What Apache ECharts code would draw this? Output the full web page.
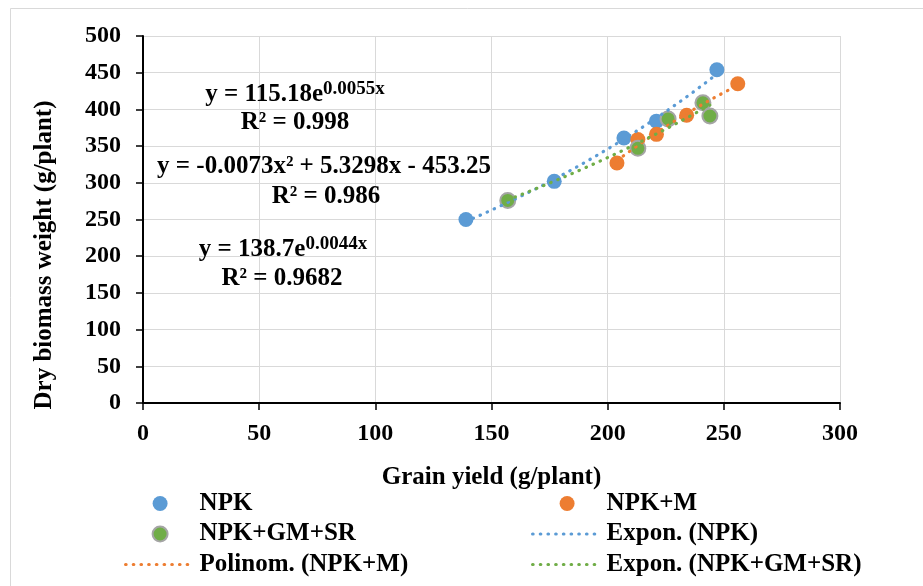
<!DOCTYPE html>
<html>
<head>
<meta charset="utf-8">
<script src="https://cdn.jsdelivr.net/npm/echarts@6/dist/echarts.min.js"></script>
<style>
html, body { margin: 0; padding: 0; background: #fff; }
#chart { width: 923px; height: 586px; }
</style>
</head>
<body>
<div id="chart"></div>
<script>
// 数据
var npkX = [139, 177, 207, 221, 247];
var npkY = [250, 302, 361, 384, 454];
var npkmX = [204, 213, 221, 234, 256];
var npkmY = [327, 359, 366, 392, 435];
var gmX = [157, 213, 226, 241, 244];
var gmY = [276, 347, 387, 409, 391];

// trendline coefficients as printed on the chart
var npkExpFit = [115.18, 0.0055];
var npkmPolyFit = [-0.0073, 5.3298, -453.25];
var gmExpFit = [138.7, 0.0044];

var xTicks = [0, 50, 100, 150, 200, 250, 300];
var yTicks = [0, 50, 100, 150, 200, 250, 300, 350, 400, 450, 500];

var FONT = '"Liberation Serif", "Times New Roman", serif';
var BLUE = '#5b9bd5', ORANGE = '#ed7d31', GREEN = '#70ad47', GREY = '#a5a5a5';

function pairs(xs, ys) {
    var out = [];
    for (var i = 0; i < xs.length; i++) out.push([xs[i], ys[i]]);
    return out;
}

// trendline drawn over the range of its own series
function curve(xs, fn) {
    var lo = Math.min.apply(null, xs), hi = Math.max.apply(null, xs);
    var out = [];
    for (var x = lo; x < hi; x += 1) out.push([x, fn(x)]);
    out.push([hi, fn(hi)]);
    return out;
}

function expo(c) { return function (x) { return c[0] * Math.exp(c[1] * x); }; }
function poly2(c) { return function (x) { return c[0] * x * x + c[1] * x + c[2]; }; }

var dotted = function (color) {
    return { color: color, width: 3.2, type: [0.5, 7.2], cap: 'round', opacity: 1 };
};

var txt = { fontFamily: FONT, fontWeight: 'bold', fontSize: 25, color: '#000' };

function eqText(x, y, text) {
    return {
        type: 'text', x: x, y: y, z: 20,
        style: {
            text: text,
            align: 'center', verticalAlign: 'middle',
            textAlign: 'center', textVerticalAlign: 'middle',
            font: 'bold 25px ' + FONT, fill: '#000',
            rich: {
                m: { fontFamily: FONT, fontWeight: 'bold', fontSize: 25, lineHeight: 30 },
                s: { fontFamily: FONT, fontWeight: 'bold', fontSize: 19, lineHeight: 19, verticalAlign: 'top' }
            }
        }
    };
}

// legend entry for a trendline: the dotted line only, no symbol
function lineEntry(name, color) {
    return { name: name, itemStyle: { opacity: 0 }, lineStyle: dotted(color) };
}

var axisLineStyle = { color: '#000', width: 2 };
var legendText = { fontFamily: FONT, fontWeight: 'bold', fontSize: 25, color: '#000', lineHeight: 25 };

var option = {
    backgroundColor: '#fff',
    animation: false,
    grid: { left: 143, right: 83, top: 36, bottom: 183 },
    xAxis: {
        type: 'value', min: 0, max: 300, interval: 50,
        name: 'Grain yield (g/plant)', nameLocation: 'middle', nameGap: 62,
        nameTextStyle: txt,
        axisLine: { onZero: false, lineStyle: axisLineStyle },
        axisTick: { show: true, length: 7, lineStyle: { color: '#000', width: 1.5 } },
        axisLabel: {
            margin: 19, fontFamily: FONT, fontWeight: 'bold', fontSize: 24, color: '#000',
            formatter: function (v) { return xTicks.indexOf(v) >= 0 ? String(v) : ''; }
        },
        splitLine: { show: true, lineStyle: { color: '#d9d9d9', width: 1 } }
    },
    yAxis: {
        type: 'value', min: 0, max: 500, interval: 50,
        axisLine: { show: true, onZero: false, lineStyle: axisLineStyle },
        axisTick: { show: true, length: 7, lineStyle: { color: '#000', width: 1.5 } },
        axisLabel: {
            margin: 22, fontFamily: FONT, fontWeight: 'bold', fontSize: 24, color: '#000',
            formatter: function (v) { return yTicks.indexOf(v) >= 0 ? String(v) : ''; }
        },
        splitLine: { show: true, lineStyle: { color: '#d9d9d9', width: 1 } }
    },
    legend: [
        {
            left: 124, top: 491, orient: 'vertical', padding: 0, itemGap: 5.5,
            itemWidth: 69, itemHeight: 15, selectedMode: false,
            textStyle: legendText,
            data: ['NPK', 'NPK+GM+SR', lineEntry('Polinom. (NPK+M)', ORANGE)]
        },
        {
            left: 531, top: 491, orient: 'vertical', padding: 0, itemGap: 5.5,
            itemWidth: 69, itemHeight: 15, selectedMode: false,
            textStyle: legendText,
            data: ['NPK+M', lineEntry('Expon. (NPK)', BLUE), lineEntry('Expon. (NPK+GM+SR)', GREEN)]
        }
    ],
    series: [
        {
            name: 'NPK', type: 'scatter', symbol: 'circle', symbolSize: 15, z: 2,
            itemStyle: { color: BLUE, opacity: 1 },
            data: pairs(npkX, npkY)
        },
        {
            name: 'NPK+M', type: 'scatter', symbol: 'circle', symbolSize: 15, z: 2,
            itemStyle: { color: ORANGE, opacity: 1 },
            data: pairs(npkmX, npkmY)
        },
        {
            name: 'NPK+GM+SR', type: 'scatter', symbol: 'circle', symbolSize: 15, z: 2,
            itemStyle: { color: GREEN, borderColor: GREY, borderWidth: 2, opacity: 1 },
            data: pairs(gmX, gmY)
        },
        {
            name: 'Expon. (NPK)', type: 'line', symbol: 'none', z: 5, silent: true,
            lineStyle: dotted(BLUE), itemStyle: { color: BLUE },
            data: curve(npkX, expo(npkExpFit))
        },
        {
            name: 'Polinom. (NPK+M)', type: 'line', symbol: 'none', z: 5, silent: true,
            lineStyle: dotted(ORANGE), itemStyle: { color: ORANGE },
            data: curve(npkmX, poly2(npkmPolyFit))
        },
        {
            name: 'Expon. (NPK+GM+SR)', type: 'line', symbol: 'none', z: 5, silent: true,
            lineStyle: dotted(GREEN), itemStyle: { color: GREEN },
            data: curve(gmX, expo(gmExpFit))
        }
    ],
    graphic: [
        {
            type: 'rect', z: -10, silent: true,
            shape: { x: 10.5, y: 8.5, width: 1000, height: 1000 },
            style: { fill: 'none', stroke: '#d9d9d9', lineWidth: 1 }
        },
        {
            type: 'text', x: 45, y: 255, rotation: Math.PI / 2, z: 20,
            style: {
                text: 'Dry biomass weight (g/plant)',
                align: 'center', verticalAlign: 'middle',
                textAlign: 'center', textVerticalAlign: 'middle',
                font: 'bold 25px ' + FONT, fill: '#000'
            }
        },
        eqText(295, 95, '{m|y = 115.18e}{s|0.0055x}'),
        eqText(295, 123, '{m|R² = 0.998}'),
        eqText(324, 167, '{m|y = -0.0073x² + 5.3298x - 453.25}'),
        eqText(326, 197, '{m|R² = 0.986}'),
        eqText(283, 250, '{m|y = 138.7e}{s|0.0044x}'),
        eqText(282, 279, '{m|R² = 0.9682}')
    ]
};

var chart = echarts.init(document.getElementById('chart'));
chart.setOption(option);
</script>
</body>
</html>
